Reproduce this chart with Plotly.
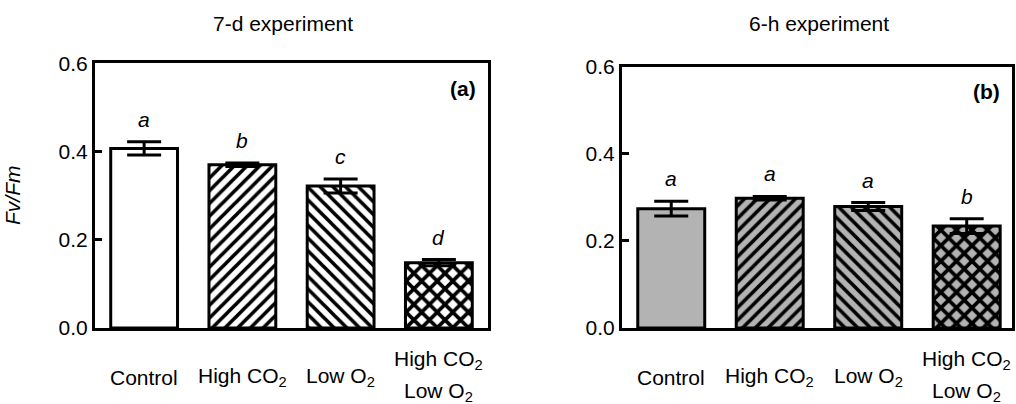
import plotly.graph_objects as go

# ---- data ----
categories = ["Control", "High CO<sub>2</sub>", "Low O<sub>2</sub>", "High CO<sub>2</sub><br>Low O<sub>2</sub>"]
fvfm_7d = [0.407, 0.370, 0.322, 0.148]
err_7d = [0.015, 0.004, 0.016, 0.007]
letters_7d = ["a", "b", "c", "d"]
fvfm_6h = [0.274, 0.298, 0.279, 0.234]
err_6h = [0.017, 0.004, 0.009, 0.017]
letters_6h = ["a", "a", "a", "b"]
panel_titles = ["7-d experiment", "6-h experiment"]
panel_tags = ["(a)", "(b)"]
y_ticks = [0.0, 0.2, 0.4, 0.6]
y_ticklabels = ["0.0", "0.2", "0.4", "0.6"]

# ---- style ----
W, H = 1016, 404
FONT = "Liberation Sans, Arial, sans-serif"
FS = 21
shapes = ["", "/", "\\", "x"]
psizes = [9, 9, 9, 11]
psolid = [0.4, 0.4, 0.4, 0.55]
fills = ["white", "#b3b3b3"]

def px_x(p):
    return p / W

def px_y(p):
    return 1 - p / H

panels = [
    dict(vals=fvfm_7d, errs=err_7d, letters=letters_7d, x0=95, x1=488, y0=63.3, y1=328,
         xr=[-0.5, 3.5], tx=283),
    dict(vals=fvfm_6h, errs=err_6h, letters=letters_6h, x0=622, x1=1012, y0=66.7, y1=328,
         xr=[-0.5, 3.46], tx=819),
]

fig = go.Figure()
annotations = []
layout = dict(
    width=W, height=H, margin=dict(l=0, r=0, t=0, b=0, autoexpand=False),
    paper_bgcolor="white", plot_bgcolor="white", showlegend=False,
    font=dict(family=FONT, size=FS, color="black"),
)

for i, p in enumerate(panels):
    xa = "x" if i == 0 else "x2"
    ya = "y" if i == 0 else "y2"
    fig.add_trace(go.Bar(
        x=categories, y=p["vals"], xaxis=xa, yaxis=ya, width=0.68,
        marker=dict(color=fills[i], line=dict(color="black", width=3),
                    pattern=dict(shape=shapes, size=psizes, solidity=psolid,
                                 fgcolor="black", fgopacity=1, fillmode="overlay")),
        error_y=dict(type="data", array=p["errs"], color="black", thickness=3, width=17),
        hoverinfo="skip",
    ))
    axis_common = dict(showline=True, linecolor="black", linewidth=3, mirror=True,
                       showgrid=False, zeroline=False, automargin=False)
    layout["xaxis" if i == 0 else "xaxis2"] = dict(
        axis_common, domain=[px_x(p["x0"]), px_x(p["x1"])], range=p["xr"],
        showticklabels=False, ticks="", anchor=ya, type="category")
    layout["yaxis" if i == 0 else "yaxis2"] = dict(
        axis_common, domain=[px_y(p["y1"]), px_y(p["y0"])], range=[0, 0.6],
        tickvals=y_ticks, ticktext=y_ticklabels, ticks="inside", ticklen=7,
        tickwidth=3, tickcolor="black", anchor=xa,
        tickfont=dict(size=FS, family=FONT))

    for c, v, e, l in zip(categories, p["vals"], p["errs"], p["letters"]):
        annotations.append(dict(x=c, y=v + e, xref=xa, yref=ya, text="<i>%s</i>" % l,
                                showarrow=False, xanchor="center", yanchor="bottom", yshift=9,
                                font=dict(size=FS, family=FONT)))
    for c in categories:
        lines = c.split("<br>")
        ys = [377] if len(lines) == 1 else [360, 392]
        for t, yy in zip(lines, ys):
            annotations.append(dict(x=c, y=px_y(yy), xref=xa, yref="paper", text=t,
                                    showarrow=False, xanchor="center", yanchor="middle",
                                    font=dict(size=FS, family=FONT)))
    annotations.append(dict(x=px_x(p["tx"]), y=px_y(23), xref="paper", yref="paper",
                            text=panel_titles[i], showarrow=False, xanchor="center",
                            yanchor="middle", font=dict(size=FS, family=FONT)))
    annotations.append(dict(x=px_x(p["x1"] - 10), y=px_y(p["y0"] + 25), xref="paper", yref="paper",
                            text="<b>%s</b>" % panel_tags[i], showarrow=False,
                            xanchor="right", yanchor="middle", font=dict(size=FS, family=FONT)))

annotations.append(dict(x=px_x(12), y=px_y(196), xref="paper", yref="paper",
                        text="<i>Fv/Fm</i>", textangle=-90, showarrow=False,
                        xanchor="center", yanchor="middle",
                        font=dict(size=FS, family=FONT)))

layout["annotations"] = annotations
fig.update_layout(**layout)
fig.write_html("out.html")
